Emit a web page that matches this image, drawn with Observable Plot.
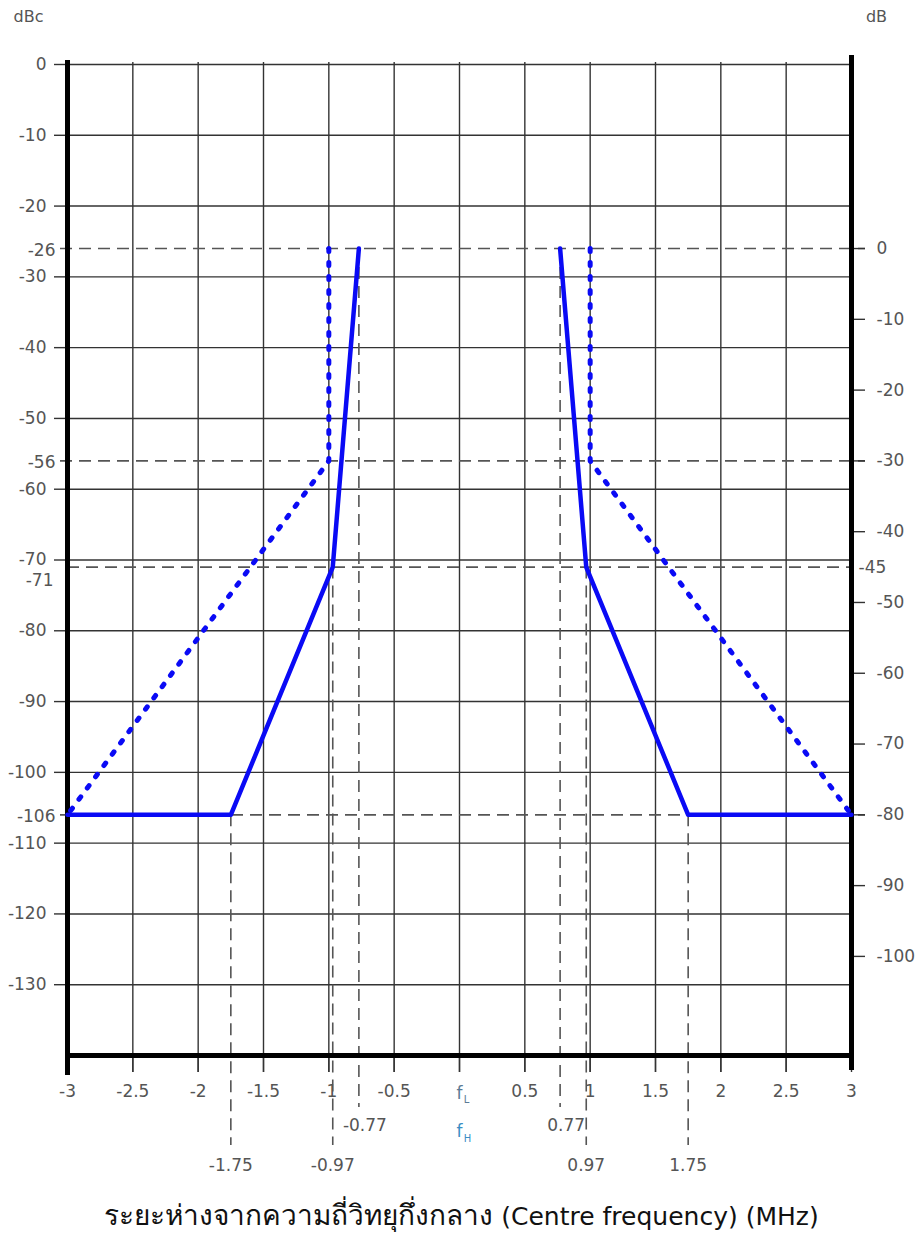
<!DOCTYPE html>
<html>
<head>
<meta charset="utf-8">
<script src="https://cdn.jsdelivr.net/npm/d3@7"></script>
<script src="https://cdn.jsdelivr.net/npm/@observablehq/plot@0.6"></script>
<style>
  body { margin: 0; background: #fff; }
  #caption {
    width: 923px; text-align: center;
    font-family: "DejaVu Sans", "Noto Sans", sans-serif;
    font-size: 25px; line-height: 30px; padding-top: 21px;
    color: #111;
  }
  #caption .th { font-size: 28px; }
</style>
</head>
<body>
<div id="chart"></div>
<div id="caption"><span class="th">ระยะห่างจากความถี่วิทยุกึ่งกลาง</span> (Centre frequency) (MHz)</div>
<script>
// ---- data ----
const xDomain = [-3, 3];
const yDomain = [-140, 0];
const xTicks = [-3, -2.5, -2, -1.5, -1, -0.5, 0, 0.5, 1, 1.5, 2, 2.5, 3];
const yTicks = [0, -10, -20, -30, -40, -50, -60, -70, -80, -90, -100, -110, -120, -130];
const yMarkers = [-26, -56, -71, -106];           // dBc reference levels
const dbOffset = 26;                              // dB = dBc + 26
const dbTicks = [0, -10, -20, -30, -40, -50, -60, -70, -80, -90, -100];
const dbMarker = -45;
const freqMarkers = [-1.75, -0.97, -0.77, 0.77, 0.97, 1.75];
const freqMarkerTop = [-106, -71, -26, -26, -71, -106];

// solid mask (left / right)
const solidLeftX = [-3, -1.75, -0.97, -0.77];
const solidLeftY = [-106, -106, -71, -26];
const solidRightX = [0.77, 0.97, 1.75, 3];
const solidRightY = [-26, -71, -106, -106];
// dotted mask (left / right)
const dottedLeftX = [-1, -1, -3];
const dottedLeftY = [-26, -56, -106];
const dottedRightX = [1, 1, 3];
const dottedRightY = [-26, -56, -106];

// ---- helpers ----
const pts = (xs, ys) => xs.map((x, i) => ({x, y: ys[i]}));
const fmt = d => String(d);
const FONT = "'DejaVu Sans', 'Noto Sans', sans-serif";
const FS = 17;
const TXT = "#555";
const BLUE = "#0a0af5";

const gridX = xTicks.filter(d => d > xDomain[0] && d < xDomain[1]);
const longMark = freqMarkers.map((d, i) => ({x: d, top: freqMarkerTop[i]})).filter(d => Math.abs(d.x) !== 0.77);
const shortMark = freqMarkers.map((d, i) => ({x: d, top: freqMarkerTop[i]})).filter(d => Math.abs(d.x) === 0.77);
const markerDbc = dbMarker - dbOffset;
const T = {fill: TXT, fontSize: FS, fontFamily: FONT};

const chart = Plot.plot({
  width: 923,
  height: 1180,
  marginLeft: 67,
  marginRight: 72,
  marginTop: 64,
  marginBottom: 125,
  style: {fontFamily: FONT, background: "#fff"},
  x: {domain: xDomain, axis: null, label: null},
  y: {domain: yDomain, axis: null, label: null},
  marks: [
    // grid
    Plot.ruleX(gridX, {stroke: "#333", strokeWidth: 1.4, insetTop: -2, insetBottom: -17}),
    Plot.ruleY(yTicks, {stroke: "#333", strokeWidth: 1.4}),
    // dashed reference lines
    Plot.ruleY(yMarkers.filter(d => d !== markerDbc), {stroke: "#555", strokeWidth: 1.6, strokeDasharray: "12,7", insetLeft: -7, insetRight: -14}),
    Plot.ruleY([markerDbc], {stroke: "#555", strokeWidth: 1.6, strokeDasharray: "12,7"}),
    Plot.ruleX(longMark, {x: "x", y1: "top", y2: yDomain[0], stroke: "#555", strokeWidth: 1.6, strokeDasharray: "12,7", insetBottom: -90}),
    Plot.ruleX(shortMark, {x: "x", y1: "top", y2: yDomain[0], stroke: "#555", strokeWidth: 1.6, strokeDasharray: "12,7", insetBottom: -52}),
    // axes ticks & labels
    Plot.axisY(yTicks, {anchor: "left", tickSize: 13, tickPadding: 8, tickFormat: fmt, stroke: "#333", strokeWidth: 1.4, ...T}),
    Plot.axisY(yMarkers.filter(d => d !== markerDbc), {anchor: "left", tickSize: 0, tickPadding: 12, tickFormat: fmt, ...T, dy: 2}),
    Plot.axisY([markerDbc], {anchor: "left", tickSize: 0, tickPadding: 14, tickFormat: fmt, ...T, dy: 13}),
    Plot.axisY(dbTicks.map(d => d - dbOffset), {anchor: "right", tickSize: 13, tickPadding: 12, tickFormat: d => fmt(d + dbOffset), stroke: "#333", strokeWidth: 1.4, ...T}),
    Plot.axisY([markerDbc], {anchor: "right", tickSize: 0, tickPadding: 7, tickFormat: d => fmt(d + dbOffset), ...T}),
    Plot.axisX(xTicks, {anchor: "bottom", tickSize: 17, tickPadding: 12, tickFormat: d => d === 0 ? "" : fmt(d), stroke: "#333", strokeWidth: 1.4, ...T}),
    // extra frequency labels
    Plot.text(shortMark, {x: "x", frameAnchor: "bottom", dy: 70, dx: 6, text: d => fmt(d.x), ...T, lineAnchor: "middle"}),
    Plot.text(longMark, {x: "x", frameAnchor: "bottom", dy: 110, text: d => fmt(d.x), ...T, lineAnchor: "middle"}),
    // f_L and f_H
    Plot.text([0], {x: d => d, frameAnchor: "bottom", dy: 38, dx: 0, text: () => "f", fill: "#5b7a95", fontSize: FS, fontFamily: FONT, lineAnchor: "middle"}),
    Plot.text([0], {x: d => d, frameAnchor: "bottom", dy: 44, dx: 7, text: () => "L", fill: "#5b7a95", fontSize: 10, fontFamily: FONT, lineAnchor: "middle"}),
    Plot.text([0], {x: d => d, frameAnchor: "bottom", dy: 76, dx: 0, text: () => "f", fill: "#3a8dc4", fontSize: FS, fontFamily: FONT, lineAnchor: "middle"}),
    Plot.text([0], {x: d => d, frameAnchor: "bottom", dy: 83, dx: 8, text: () => "H", fill: "#3a8dc4", fontSize: 10, fontFamily: FONT, lineAnchor: "middle"}),
    // units
    Plot.text(["dBc"], {frameAnchor: "top-left", dx: -39, dy: -48, text: d => d, fill: TXT, fontSize: 16, fontFamily: FONT, lineAnchor: "middle", textAnchor: "middle"}),
    Plot.text(["dB"], {frameAnchor: "top-right", dx: 25, dy: -48, text: d => d, fill: TXT, fontSize: 16, fontFamily: FONT, lineAnchor: "middle", textAnchor: "middle"}),
    // thick frame
    Plot.ruleY([yDomain[0]], {stroke: "#000", strokeWidth: 5}),
    Plot.ruleX([xDomain[0]], {stroke: "#000", strokeWidth: 5, insetTop: -4, insetBottom: -20}),
    Plot.ruleX([xDomain[1]], {stroke: "#000", strokeWidth: 5, insetTop: -9, insetBottom: -15}),
    // mask lines
    Plot.line(pts(dottedLeftX, dottedLeftY), {x: "x", y: "y", stroke: BLUE, strokeWidth: 5, strokeDasharray: "3,11", strokeLinecap: "round"}),
    Plot.line(pts(dottedRightX, dottedRightY), {x: "x", y: "y", stroke: BLUE, strokeWidth: 5, strokeDasharray: "3,11", strokeLinecap: "round"}),
    Plot.line(pts(solidLeftX, solidLeftY), {x: "x", y: "y", stroke: BLUE, strokeWidth: 4.5}),
    Plot.line(pts(solidRightX, solidRightY), {x: "x", y: "y", stroke: BLUE, strokeWidth: 4.5})
  ]
});
document.getElementById("chart").appendChild(chart);
</script>
</body>
</html>
